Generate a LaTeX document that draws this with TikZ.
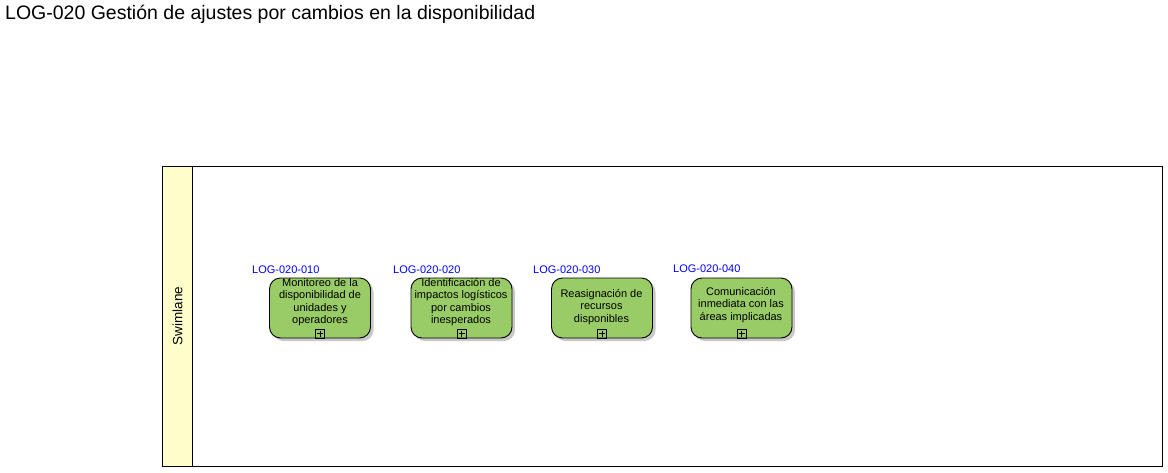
\documentclass[tikz,border=0pt]{standalone}
\usepackage{fontspec}
\setmainfont{Liberation Sans}
\definecolor{taskgreen}{RGB}{153,204,102}
\definecolor{lanehead}{RGB}{255,255,204}
\definecolor{shadowgray}{RGB}{200,200,200}
\definecolor{idblue}{RGB}{0,0,255}
\tikzset{
  taskbox/.style={draw=black, line width=0.9pt, fill=taskgreen, rounded corners=11pt,
    minimum width=101pt, minimum height=60pt, inner sep=0pt},
  taskshadow/.style={fill=shadowgray, rounded corners=11pt,
    minimum width=101pt, minimum height=60pt, inner sep=0pt},
  tasktext/.style={align=center, font=\fontsize{11}{12.5}\selectfont, inner sep=0pt},
  idlabel/.style={anchor=west, text=idblue, font=\fontsize{11}{12}\selectfont, inner sep=0pt},
  plusbox/.style={draw=black, line width=0.7pt, minimum size=9pt, inner sep=0pt,
    path picture={\draw[line width=0.6pt] (path picture bounding box.north)++(0,-1.5pt) -- ++(0,-6pt);
                  \draw[line width=0.6pt] (path picture bounding box.west)++(1.5pt,0) -- ++(6pt,0);}},
}
\begin{document}
\begin{tikzpicture}[x=1pt,y=-1pt]
\useasboundingbox[fill=white] (0,0) rectangle (1168,472);
\node[anchor=west, font=\fontsize{19.5}{22}\selectfont, inner sep=0pt] (title) at (5,14) {LOG-020 Gestión de ajustes por cambios en la disponibilidad};
% swimlane
\draw[line width=0.9pt] (162.5,166.5) rectangle (1162.5,466);
\draw[line width=0.9pt, fill=lanehead] (162.5,166.5) rectangle (192.5,466);
\node[rotate=90, font=\fontsize{13.5}{15}\selectfont, inner sep=0pt] (lane) at (177.5,316) {Swimlane};
% tasks
\foreach \n/\xl in {1/269.5, 2/411, 3/551.5, 4/691}{
  \node[taskshadow] (s\n) at (\xl+53.5,311) {};
  \node[taskbox] (b\n) at (\xl+50.5,308) {};
  \node[plusbox, anchor=south] (p\n) at (b\n.south) {};
}
\node[idlabel] (l1) at (252,270) {LOG-020-010};
\node[idlabel] (l2) at (393,270) {LOG-020-020};
\node[idlabel] (l3) at (533,270) {LOG-020-030};
\node[idlabel] (l4) at (673,269) {LOG-020-040};
\node[tasktext] (t1) at (320,302) {Monitoreo de la\\disponibilidad de\\unidades y\\operadores};
\node[tasktext] (t2) at (461,302) {Identificación de\\impactos logísticos\\por cambios\\inesperados};
\node[tasktext] (t3) at (601.5,307) {Reasignación de\\recursos\\disponibles};
\node[tasktext] (t4) at (741,305) {Comunicación\\inmediata con las\\áreas implicadas};
\end{tikzpicture}
\end{document}
